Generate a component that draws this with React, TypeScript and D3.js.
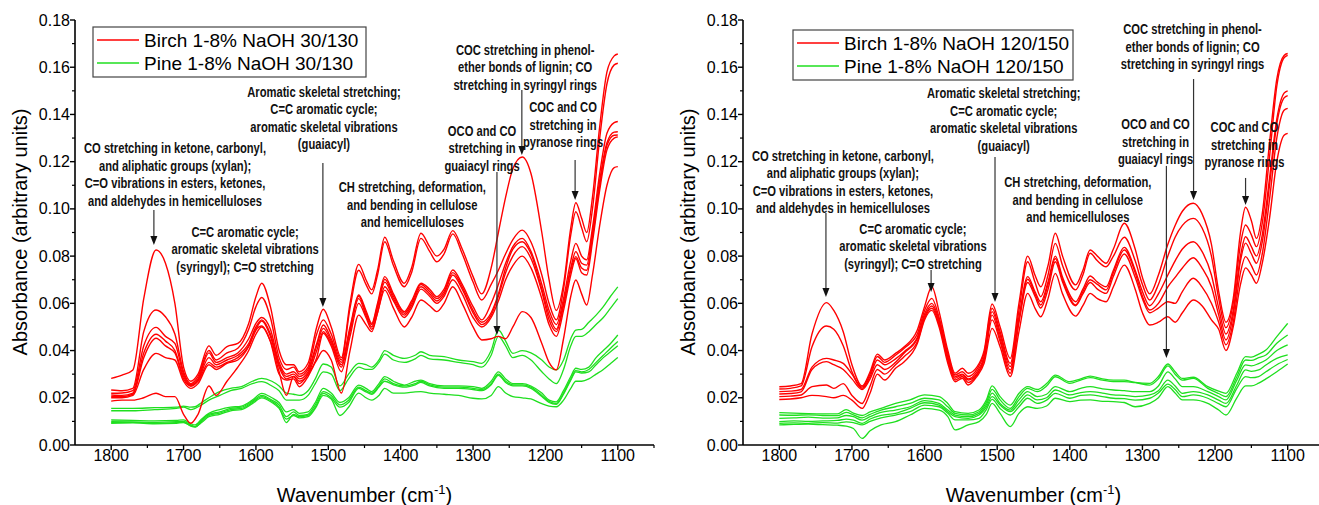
import React from 'react';
import * as d3 from 'd3';

// ---------- axis ticks ----------
const yMajorTicks = [0, 0.02, 0.04, 0.06, 0.08, 0.1, 0.12, 0.14, 0.16, 0.18];
const yMinorTicks = [0.01, 0.03, 0.05, 0.07, 0.09, 0.11, 0.13, 0.15, 0.17];
const xMajorTicks = [1800, 1700, 1600, 1500, 1400, 1300, 1200, 1100];
const xMinorTicks = [1750, 1650, 1550, 1450, 1350, 1250, 1150, 1050];

// ---------- left panel (30/130) ----------
const wnLeftRed = [1800, 1785, 1770, 1755, 1738, 1725, 1712, 1700, 1690, 1680, 1665, 1655, 1640, 1625, 1610, 1600, 1592, 1580, 1568, 1558, 1548, 1540, 1528, 1516, 1507, 1496, 1482, 1470, 1458, 1448, 1440, 1432, 1422, 1410, 1395, 1385, 1372, 1360, 1350, 1340, 1328, 1315, 1300, 1288, 1275, 1265, 1255, 1245, 1232, 1220, 1205, 1195, 1185, 1175, 1165, 1158, 1150, 1143, 1135, 1125, 1115, 1105, 1100];
const leftRed1 = [.0282, .0296, .0318, .062, .0826, .077, .060, .033, .027, .030, .042, .038, .0417, .043, .0515, .0628, .0685, .0586, .040, .034, .034, .031, .0346, .050, .0575, .050, .037, .060, .0765, .070, .0657, .074, .088, .078, .0685, .075, .0897, .084, .080, .083, .0908, .083, .0713, .064, .075, .090, .105, .117, .122, .115, .090, .070, .057, .068, .092, .1026, .096, .090, .105, .135, .158, .1648, .1656];
const leftRed2 = [.0233, .023, .024, .048, .0572, .0543, .047, .031, .026, .029, .040, .036, .039, .041, .049, .0586, .0625, .054, .037, .032, .033, .030, .033, .047, .053, .047, .036, .058, .074, .068, .064, .072, .0861, .076, .067, .073, .0875, .082, .0776, .081, .0894, .081, .069, .0614, .068, .074, .081, .087, .091, .086, .072, .060, .053, .066, .089, .0988, .092, .0861, .10, .13, .153, .161, .1617];
const leftRed3 = [.0219, .022, .023, .042, .0498, .046, .043, .030, .0255, .028, .039, .035, .037, .039, .045, .0515, .054, .049, .035, .030, .031, .029, .032, .043, .0508, .045, .035, .050, .0635, .057, .0515, .060, .0713, .064, .0565, .061, .0685, .066, .0628, .066, .0741, .068, .0586, .053, .060, .068, .077, .084, .0875, .082, .068, .057, .051, .062, .078, .0854, .080, .0784, .092, .115, .132, .1365, .137];
const leftRed4 = [.0212, .021, .022, .039, .0469, .044, .040, .029, .025, .0275, .037, .034, .036, .038, .043, .050, .053, .047, .034, .029, .030, .028, .031, .042, .0494, .044, .034, .049, .063, .056, .051, .059, .0702, .063, .0558, .060, .068, .065, .062, .065, .073, .067, .057, .052, .056, .064, .075, .083, .0861, .081, .066, .055, .049, .060, .075, .0819, .077, .0762, .09, .112, .128, .1325, .1327];
const leftRed5 = [.0205, .0205, .0215, .037, .0452, .042, .039, .028, .025, .027, .035, .033, .035, .037, .042, .049, .0525, .046, .033, .028, .029, .027, .030, .040, .048, .043, .033, .048, .062, .055, .050, .058, .069, .062, .055, .059, .067, .064, .061, .064, .072, .066, .056, .051, .055, .063, .073, .080, .084, .079, .065, .053, .048, .059, .074, .0798, .075, .074, .088, .110, .127, .1312, .1313];
const leftRed6 = [.020, .020, .021, .032, .0388, .037, .036, .027, .024, .026, .034, .032, .0346, .036, .0417, .0487, .0504, .0438, .030, .0275, .028, .0247, .029, .037, .0473, .042, .031, .046, .060, .054, .049, .056, .067, .061, .054, .058, .066, .063, .060, .063, .070, .064, .054, .050, .054, .061, .070, .076, .080, .075, .062, .051, .046, .057, .072, .079, .073, .072, .086, .108, .125, .130, .1305];
const leftRed7 = [.0186, .019, .019, .020, .0219, .0205, .0205, .013, .0092, .013, .025, .021, .027, .033, .040, .047, .050, .044, .031, .021, .029, .026, .030, .036, .040, .036, .022, .040, .055, .051, .048, .056, .0656, .058, .050, .054, .0614, .059, .0565, .060, .067, .060, .050, .0445, .045, .046, .045, .050, .0565, .054, .043, .035, .0318, .045, .063, .0699, .064, .0593, .072, .093, .110, .1175, .1179];

const wnLeftGreen = [1800, 1770, 1740, 1710, 1700, 1690, 1684, 1675, 1665, 1650, 1635, 1620, 1605, 1592, 1578, 1568, 1558, 1548, 1540, 1528, 1518, 1507, 1496, 1484, 1472, 1458, 1448, 1440, 1430, 1422, 1410, 1395, 1380, 1372, 1360, 1340, 1320, 1300, 1288, 1275, 1265, 1255, 1245, 1232, 1220, 1205, 1195, 1185, 1175, 1165, 1158, 1150, 1140, 1130, 1120, 1110, 1100];
const leftGreen1 = [.0155, .0155, .0158, .016, .0165, .016, .0162, .018, .020, .0226, .024, .0247, .027, .0282, .027, .025, .022, .0215, .021, .023, .028, .0343, .033, .025, .030, .0346, .034, .033, .036, .040, .038, .0367, .038, .0395, .038, .0374, .036, .0353, .0346, .040, .0487, .044, .0388, .040, .039, .036, .033, .0318, .036, .045, .0487, .049, .052, .055, .0586, .063, .067];
const leftGreen2 = [.0145, .0145, .015, .0155, .016, .015, .0155, .017, .019, .021, .023, .024, .026, .0268, .025, .023, .019, .019, .019, .021, .026, .031, .030, .023, .028, .033, .032, .032, .035, .0385, .036, .035, .0365, .038, .0365, .036, .035, .034, .033, .038, .046, .042, .037, .038, .036, .031, .028, .026, .032, .042, .046, .046, .048, .051, .054, .058, .062];
const leftGreen3 = [.0106, .0104, .0102, .0104, .0106, .009, .0085, .011, .0134, .015, .016, .0165, .019, .0219, .020, .018, .014, .015, .0134, .014, .018, .024, .022, .018, .020, .0254, .024, .0226, .026, .029, .027, .0254, .027, .0275, .026, .025, .025, .0247, .024, .027, .031, .028, .026, .026, .025, .022, .019, .0183, .023, .029, .0325, .032, .033, .037, .040, .043, .0466];
const leftGreen4 = [.0099, .0098, .0096, .0099, .010, .0085, .0078, .0105, .013, .014, .0155, .016, .0185, .021, .019, .017, .012, .014, .0125, .013, .017, .0226, .021, .017, .019, .0245, .023, .022, .025, .028, .026, .025, .026, .027, .0255, .0245, .0245, .024, .0235, .026, .030, .027, .0255, .0255, .0245, .021, .0185, .0176, .022, .028, .0315, .031, .032, .035, .038, .041, .0438];
const leftGreen5 = [.0095, .0096, .0092, .0095, .0097, .0080, .0076, .010, .0125, .0135, .015, .0155, .018, .0205, .0185, .016, .0095, .013, .012, .0125, .016, .0219, .020, .016, .018, .024, .0225, .0215, .0245, .027, .0255, .0245, .0255, .0265, .025, .024, .024, .0235, .023, .0255, .0295, .0265, .025, .025, .024, .0205, .018, .0172, .0215, .0275, .031, .0305, .031, .034, .037, .0395, .042];
const leftGreen6 = [.0092, .0094, .0090, .0092, .0095, .0082, .0078, .0095, .012, .013, .0145, .015, .0175, .020, .018, .0155, .011, .0125, .0115, .012, .0155, .021, .0195, .0125, .016, .022, .020, .019, .021, .024, .022, .022, .0225, .0226, .022, .0215, .021, .0198, .0195, .021, .0247, .022, .0205, .020, .0195, .0175, .0165, .0162, .019, .024, .027, .027, .028, .030, .032, .0345, .0371];

// ---------- right panel (120/150) ----------
const wnRightRed = [1800, 1785, 1770, 1755, 1735, 1725, 1712, 1700, 1686, 1675, 1665, 1655, 1640, 1628, 1610, 1600, 1590, 1580, 1568, 1558, 1548, 1540, 1528, 1518, 1507, 1496, 1482, 1470, 1458, 1448, 1440, 1430, 1420, 1410, 1392, 1382, 1372, 1362, 1350, 1340, 1325, 1310, 1300, 1290, 1278, 1265, 1255, 1245, 1230, 1218, 1205, 1195, 1185, 1175, 1165, 1158, 1150, 1143, 1135, 1125, 1115, 1105, 1100];
const rightRed1 = [.0247, .0250, .0260, .047, .0603, .057, .048, .034, .025, .031, .0385, .036, .0388, .0416, .0487, .0586, .067, .0565, .040, .0304, .0325, .0304, .033, .040, .0597, .050, .0367, .060, .080, .072, .067, .076, .0897, .080, .0678, .074, .0826, .080, .077, .083, .0939, .083, .071, .064, .072, .085, .093, .099, .1024, .098, .085, .065, .052, .062, .090, .1007, .095, .0875, .098, .128, .155, .1650, .1658];
const rightRed2 = [.0237, .0240, .0250, .0416, .0504, .049, .042, .031, .0245, .030, .0375, .035, .038, .041, .047, .057, .0621, .054, .0388, .0297, .031, .029, .032, .0388, .0579, .048, .0346, .057, .0776, .069, .0628, .072, .0854, .076, .0657, .072, .0812, .078, .0755, .080, .088, .078, .068, .0614, .068, .080, .088, .093, .096, .092, .080, .062, .0497, .060, .085, .0932, .089, .084, .094, .122, .152, .1640, .1650];
const rightRed3 = [.0226, .0228, .0235, .033, .0367, .036, .0346, .030, .024, .029, .036, .034, .0365, .0395, .0455, .0555, .060, .053, .0374, .029, .030, .028, .031, .0374, .0565, .0466, .0332, .054, .0713, .065, .0607, .069, .080, .071, .0607, .066, .0716, .069, .067, .074, .0837, .074, .065, .059, .064, .072, .078, .083, .0861, .082, .072, .058, .047, .057, .080, .0882, .084, .080, .089, .113, .138, .149, .150];
const rightRed4 = [.0216, .0218, .0225, .032, .0353, .034, .032, .028, .0235, .028, .034, .032, .035, .039, .045, .0545, .0589, .052, .0367, .0283, .0297, .0275, .030, .0367, .055, .045, .0318, .053, .0702, .064, .0593, .068, .079, .070, .0593, .065, .070, .068, .0657, .073, .0826, .073, .063, .0572, .060, .067, .071, .075, .0793, .075, .067, .055, .0445, .055, .078, .0855, .081, .077, .086, .110, .136, .1470, .148];
const rightRed5 = [.0205, .0207, .0212, .0247, .0254, .024, .026, .021, .0176, .025, .032, .030, .034, .0375, .0437, .0537, .0579, .051, .036, .0275, .029, .0265, .0297, .036, .053, .0438, .0304, .052, .0688, .063, .058, .066, .0776, .069, .059, .064, .0688, .066, .0642, .0715, .0809, .071, .062, .056, .058, .0607, .0600, .065, .0706, .067, .060, .052, .0424, .052, .073, .0798, .076, .072, .081, .104, .130, .1418, .1426];
const rightRed6 = [.0193, .0195, .0200, .021, .0205, .020, .021, .019, .0155, .022, .030, .0275, .0325, .0353, .043, .053, .057, .050, .0346, .0268, .0283, .0254, .029, .0346, .0494, .0416, .029, .048, .0642, .058, .0543, .062, .0727, .064, .0546, .059, .0642, .062, .0607, .067, .0762, .066, .056, .0508, .052, .0543, .052, .056, .0614, .059, .053, .049, .040, .050, .068, .075, .072, .0685, .077, .096, .120, .1312, .132];

const wnRightGreen = [1800, 1780, 1760, 1740, 1720, 1708, 1698, 1686, 1675, 1660, 1640, 1620, 1600, 1580, 1568, 1558, 1540, 1525, 1515, 1507, 1496, 1482, 1470, 1458, 1445, 1432, 1420, 1400, 1385, 1372, 1355, 1340, 1325, 1310, 1290, 1278, 1265, 1255, 1245, 1230, 1210, 1195, 1185, 1170, 1158, 1150, 1140, 1130, 1115, 1100];
const rightGreen1 = [.0137, .0135, .0133, .0132, .0132, .0150, .0135, .0125, .0140, .0155, .0176, .0191, .0212, .0205, .0176, .0141, .0134, .0148, .0190, .025, .0205, .0169, .0219, .0247, .0235, .026, .0296, .0268, .028, .0292, .0280, .0275, .0275, .0265, .0261, .029, .0343, .031, .0282, .0287, .0247, .0228, .0219, .0304, .0374, .0372, .0385, .0402, .0459, .0515];
const rightGreen2 = [.0127, .0126, .0128, .0125, .0124, .0138, .0128, .0115, .0130, .0148, .0162, .0176, .0198, .0191, .0162, .0134, .0127, .0141, .018, .0236, .0191, .0155, .0205, .024, .0226, .025, .0289, .0261, .0275, .0285, .0275, .0268, .0268, .0264, .0254, .028, .0335, .030, .0275, .0282, .024, .0218, .0205, .0289, .036, .0358, .037, .0381, .0431, .0466];
const rightGreen3 = [.0113, .0115, .0118, .0114, .0115, .0125, .012, .0105, .0120, .0138, .0148, .0162, .0188, .0176, .0148, .0127, .012, .0134, .017, .022, .0176, .0148, .0191, .0226, .0205, .0215, .0247, .0226, .024, .0247, .0238, .0233, .023, .0226, .0226, .025, .031, .028, .0247, .0247, .0226, .0205, .0191, .0275, .0339, .0335, .0345, .036, .040, .0424];
const rightGreen4 = [.0099, .0102, .0100, .0102, .0104, .0110, .0105, .0092, .0110, .0125, .0134, .0155, .0179, .0169, .0141, .012, .0113, .0127, .016, .0205, .0169, .0141, .0176, .0212, .0191, .020, .0233, .0212, .0222, .0226, .022, .0212, .0210, .0205, .0212, .023, .0275, .025, .0219, .0226, .0212, .019, .0176, .0254, .0318, .0312, .0318, .0339, .0367, .0382];
const rightGreen5 = [.0092, .0094, .0092, .0095, .0093, .0098, .0095, .0085, .010, .0115, .0127, .0141, .0169, .0162, .0134, .0106, .0106, .0113, .015, .0193, .0155, .0127, .0162, .0198, .0176, .019, .0219, .0198, .021, .0212, .0205, .0198, .0196, .019, .0198, .022, .0258, .0235, .0205, .0212, .0198, .0175, .0162, .024, .029, .0285, .029, .031, .034, .0362];
const rightGreen6 = [.0085, .0087, .0088, .0086, .0084, .0080, .0070, .0028, .0060, .0085, .0099, .0127, .0155, .0148, .0120, .0064, .0085, .0099, .013, .0176, .0134, .0078, .0134, .0162, .0155, .0165, .0198, .0184, .019, .0191, .0185, .0184, .018, .0162, .0176, .020, .0247, .022, .0191, .0191, .0176, .0148, .0127, .020, .025, .025, .0262, .028, .031, .0343];

// ---------- annotation texts ----------
const txtCO = ['CO stretching in ketone, carbonyl,', 'and aliphatic groups (xylan);', 'C=O vibrations in esters, ketones,', 'and aldehydes in hemicelluloses'];
const txtSyr = ['C=C aromatic cycle;', 'aromatic skeletal vibrations', '(syringyl); C=O stretching'];
const txtGua = ['Aromatic skeletal stretching;', 'C=C aromatic cycle;', 'aromatic skeletal vibrations', '(guaiacyl)'];
const txtCH = ['CH stretching, deformation,', 'and bending in cellulose', 'and hemicelluloses'];
const txtOCO = ['OCO and CO', 'stretching in', 'guaiacyl rings'];
const txtCOC = ['COC stretching in phenol-', 'ether bonds of lignin; CO', 'stretching in syringyl rings'];
const txtPyr = ['COC and CO', 'stretching in', 'pyranose rings'];

const RED = '#ff0000';
const GREEN = '#1fdf1f';

type Panel = {
  x0: number; x1: number;
  legend: { x: number; y: number; w: number; h: number; labels: string[] };
  red: { wn: number[]; series: number[][] };
  green: { wn: number[]; series: number[][] };
  notes: { wn: number; v: number; lines: string[] }[];
  arrows: { wn: number; from: number; to: number }[];
  yTitleX: number;
};

const panels: Panel[] = [
  {
    x0: 75, x1: 654,
    legend: { x: 93, y: 27, w: 273, h: 50, labels: ['Birch 1-8% NaOH 30/130', 'Pine 1-8% NaOH 30/130'] },
    red: { wn: wnLeftRed, series: [leftRed1, leftRed2, leftRed3, leftRed4, leftRed5, leftRed6, leftRed7] },
    green: { wn: wnLeftGreen, series: [leftGreen1, leftGreen2, leftGreen3, leftGreen4, leftGreen5, leftGreen6] },
    notes: [
      { wn: 1711.8, v: 0.1258, lines: txtCO },
      { wn: 1615, v: 0.0906, lines: txtSyr },
      { wn: 1506, v: 0.1499, lines: txtGua },
      { wn: 1384, v: 0.1093, lines: txtCH },
      { wn: 1287.6, v: 0.1334, lines: txtOCO },
      { wn: 1228, v: 0.1677, lines: txtCOC },
      { wn: 1175.7, v: 0.1432, lines: txtPyr },
    ],
    arrows: [
      { wn: 1741, from: 0.0995, to: 0.0847 },
      { wn: 1507.5, from: 0.1194, to: 0.0584 },
      { wn: 1267, from: 0.1156, to: 0.0466 },
      { wn: 1232.6, from: 0.1504, to: 0.1228 },
      { wn: 1159, from: 0.1207, to: 0.1038 },
    ],
    yTitleX: 27,
  },
  {
    x0: 743, x1: 1324,
    legend: { x: 793, y: 30, w: 280, h: 50, labels: ['Birch 1-8% NaOH 120/150', 'Pine 1-8% NaOH 120/150'] },
    red: { wn: wnRightRed, series: [rightRed1, rightRed2, rightRed3, rightRed4, rightRed5, rightRed6] },
    green: { wn: wnRightGreen, series: [rightGreen1, rightGreen2, rightGreen3, rightGreen4, rightGreen5, rightGreen6] },
    notes: [
      { wn: 1712.4, v: 0.1228, lines: txtCO },
      { wn: 1616, v: 0.0919, lines: txtSyr },
      { wn: 1491, v: 0.1491, lines: txtGua },
      { wn: 1389, v: 0.1114, lines: txtCH },
      { wn: 1282, v: 0.136, lines: txtOCO },
      { wn: 1231, v: 0.1762, lines: txtCOC },
      { wn: 1159.5, v: 0.1347, lines: txtPyr },
    ],
    arrows: [
      { wn: 1735.8, from: 0.0983, to: 0.0627 },
      { wn: 1591, from: 0.0741, to: 0.0648 },
      { wn: 1503, from: 0.122, to: 0.0606 },
      { wn: 1267, from: 0.1182, to: 0.0368 },
      { wn: 1229.6, from: 0.155, to: 0.1038 },
      { wn: 1158, from: 0.1131, to: 0.1017 },
    ],
    yTitleX: 695,
  },
];

const FONT = "'Liberation Sans', Arial, sans-serif";
const Y_TOP = 20, Y_BOT = 445;

function PanelView({ p }: { p: Panel }) {
  const x = d3.scaleLinear().domain([1850, 1050]).range([p.x0, p.x1]);
  const y = d3.scaleLinear().domain([0, 0.18]).range([Y_BOT, Y_TOP]);
  const mkLine = (wn: number[]) =>
    d3.line<number>().x((_, i) => x(wn[i])).y((d) => y(d)).curve(d3.curveMonotoneX);
  const redLine = mkLine(p.red.wn);
  const greenLine = mkLine(p.green.wn);
  const cx = (p.x0 + p.x1) / 2;
  const lg = p.legend;
  return (
    <g>
      {p.green.series.map((s, i) => (
        <path key={'g' + i} d={greenLine(s) || ''} fill="none" stroke={GREEN} strokeWidth={1.3} />
      ))}
      {p.red.series.map((s, i) => (
        <path key={'r' + i} d={redLine(s) || ''} fill="none" stroke={RED} strokeWidth={1.4} />
      ))}
      <line x1={p.x0} x2={p.x0} y1={Y_TOP} y2={Y_BOT} stroke="#000" strokeWidth={1.6} />
      <line x1={p.x0} x2={p.x1} y1={Y_BOT} y2={Y_BOT} stroke="#000" strokeWidth={1.6} />
      {yMajorTicks.map((t) => (
        <g key={'ym' + t}>
          <line x1={p.x0 - 5} x2={p.x0} y1={y(t)} y2={y(t)} stroke="#000" strokeWidth={1.4} />
          <text x={p.x0 - 5} y={y(t) + 5.5} textAnchor="end" fontSize={16} fontFamily={FONT}>{t.toFixed(2)}</text>
        </g>
      ))}
      {yMinorTicks.map((t) => (
        <line key={'yn' + t} x1={p.x0 - 3} x2={p.x0} y1={y(t)} y2={y(t)} stroke="#000" strokeWidth={1.2} />
      ))}
      {xMajorTicks.map((t) => (
        <g key={'xm' + t}>
          <line x1={x(t)} x2={x(t)} y1={Y_BOT} y2={Y_BOT + 5} stroke="#000" strokeWidth={1.4} />
          <text x={x(t)} y={Y_BOT + 16} textAnchor="middle" fontSize={16} fontFamily={FONT}>{t}</text>
        </g>
      ))}
      {xMinorTicks.map((t) => (
        <line key={'xn' + t} x1={x(t)} x2={x(t)} y1={Y_BOT} y2={Y_BOT + 3} stroke="#000" strokeWidth={1.2} />
      ))}
      <text x={cx} y={502} textAnchor="middle" fontSize={20} fontFamily={FONT}>
        Wavenumber (cm<tspan dy={-8} fontSize={13}>-1</tspan><tspan dy={8}>)</tspan>
      </text>
      <text transform={`translate(${p.yTitleX},${232}) rotate(-90)`} textAnchor="middle" fontSize={20} fontFamily={FONT}>
        Absorbance (arbitrary units)
      </text>
      <rect x={lg.x} y={lg.y} width={lg.w} height={lg.h} fill="#fff" stroke="#444" strokeWidth={1.2} />
      {lg.labels.map((l, i) => (
        <g key={'lg' + i}>
          <line x1={lg.x + 4} x2={lg.x + 46} y1={lg.y + 13 + i * 23} y2={lg.y + 13 + i * 23} stroke={i === 0 ? RED : GREEN} strokeWidth={1.6} />
          <text x={lg.x + 51} y={lg.y + 20 + i * 23} fontSize={19} fontFamily={FONT}>{l}</text>
        </g>
      ))}
      {p.notes.map((n, k) => (
        <g key={'n' + k}>
          {n.lines.map((ln, i) => (
            <g key={i} transform={`translate(${x(n.wn)},${y(n.v) + i * 17.5 + 5.5}) scale(0.8,1.05)`}>
              <text x={0} y={0} textAnchor="middle" fontSize={14} fontWeight="bold" fontFamily={FONT} fill="#111">{ln}</text>
            </g>
          ))}
        </g>
      ))}
      {p.arrows.map((a, k) => {
        const ax = x(a.wn), y1 = y(a.from), y2 = y(a.to);
        return (
          <g key={'a' + k}>
            <line x1={ax} x2={ax} y1={y1} y2={y2 - 8} stroke="#333" strokeWidth={1.2} />
            <path d={`M${ax - 3.5},${y2 - 9}L${ax + 3.5},${y2 - 9}L${ax},${y2}Z`} fill="#111" />
          </g>
        );
      })}
    </g>
  );
}

export default function App() {
  return (
    <svg width={1319} height={505} style={{ position: 'absolute', left: 0, top: 0, background: '#fff' }}>
      <rect x={0} y={0} width={1319} height={505} fill="#fff" />
      {panels.map((p, i) => (
        <PanelView key={i} p={p} />
      ))}
    </svg>
  );
}
